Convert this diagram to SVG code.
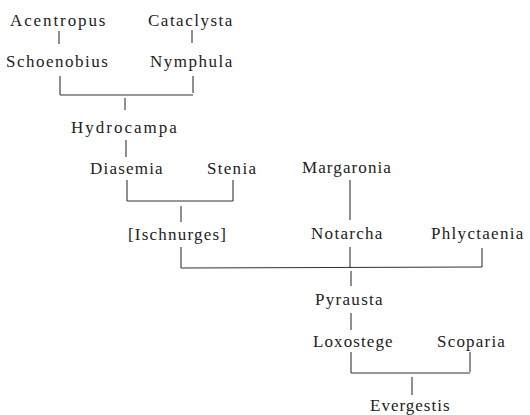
<svg xmlns="http://www.w3.org/2000/svg" width="530" height="415" viewBox="0 0 530 415">
<rect width="530" height="415" fill="#fff"/>
<g id="connectors" stroke="#333" stroke-width="1.1">
<line x1="59" y1="31" x2="59" y2="44"/>
<line x1="192" y1="30" x2="192" y2="43"/>
<line x1="60" y1="76" x2="60" y2="95"/>
<line x1="193" y1="76" x2="193" y2="93"/>
<line x1="60" y1="95" x2="193" y2="95"/>
<line x1="125" y1="98" x2="125" y2="110"/>
<line x1="126" y1="140" x2="126" y2="157"/>
<line x1="127" y1="180" x2="127" y2="201"/>
<line x1="233" y1="180" x2="233" y2="201"/>
<line x1="127" y1="201" x2="233" y2="201"/>
<line x1="181" y1="206" x2="181" y2="222"/>
<line x1="181" y1="247" x2="181" y2="268"/>
<line x1="350" y1="180" x2="350" y2="220"/>
<line x1="350" y1="247" x2="350" y2="268"/>
<line x1="482" y1="248" x2="482" y2="267"/>
<line x1="181" y1="268" x2="482" y2="267"/>
<line x1="351" y1="271" x2="351" y2="286"/>
<line x1="351" y1="313" x2="351" y2="330"/>
<line x1="351" y1="352" x2="351" y2="373"/>
<line x1="470" y1="352" x2="470" y2="372"/>
<line x1="351" y1="373" x2="470" y2="373"/>
<line x1="412" y1="377" x2="412" y2="395"/>
</g>
<g font-family="Liberation Serif" font-size="17" fill="#222">
<g id="acentropus"><text x="10" y="26" letter-spacing="1.9">Acentropus</text></g>
<g id="cataclysta"><text x="148" y="26" letter-spacing="1.5">Cataclysta</text></g>
<g id="schoenobius"><text x="6" y="67" letter-spacing="1.5">Schoenobius</text></g>
<g id="nymphula"><text x="150" y="67" letter-spacing="1.5">Nymphula</text></g>
<g id="hydrocampa"><text x="71" y="133" letter-spacing="2">Hydrocampa</text></g>
<g id="diasemia"><text x="90" y="174" letter-spacing="1.2">Diasemia</text></g>
<g id="stenia"><text x="207" y="174" letter-spacing="1.3">Stenia</text></g>
<g id="ischnurges"><text x="128" y="240" letter-spacing="1.2">[Ischnurges]</text></g>
<g id="margaronia"><text x="302" y="173" letter-spacing="1.1">Margaronia</text></g>
<g id="notarcha"><text x="311" y="239" letter-spacing="1.3">Notarcha</text></g>
<g id="phlyctaenia"><text x="431" y="239" letter-spacing="1.3">Phlyctaenia</text></g>
<g id="pyrausta"><text x="315" y="305" letter-spacing="1.3">Pyrausta</text></g>
<g id="loxostege"><text x="313" y="347" letter-spacing="1.1">Loxostege</text></g>
<g id="scoparia"><text x="437" y="347" letter-spacing="1.2">Scoparia</text></g>
<g id="evergestis"><text x="370" y="411" letter-spacing="1.0">Evergestis</text></g>
</g>
</svg>
